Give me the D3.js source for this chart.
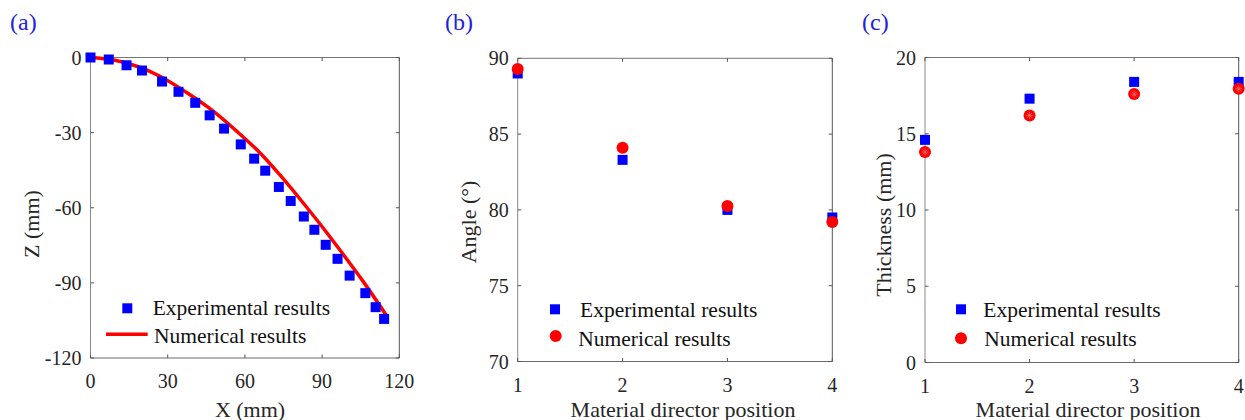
<!DOCTYPE html>
<html>
<head>
<meta charset="utf-8">
<script src="https://cdn.jsdelivr.net/npm/d3@7"></script>
<style>
  body { margin: 0; background: #fff; }
</style>
</head>
<body>
<svg id="fig" width="1245" height="420" font-family="'Liberation Serif', 'DejaVu Serif', serif"></svg>
<script>
// panel (a): deflection profile
let expX = [0, 7.1, 14.0, 20.0, 27.8, 34.2, 40.7, 46.3, 51.9, 58.4, 63.6, 67.9, 73.2, 77.8, 82.9, 87.0, 91.4, 96.0, 100.7, 106.8, 110.8, 114.1];
let expZ = [0, -0.8, -3.1, -5.2, -9.6, -13.7, -18.1, -23.1, -28.4, -34.7, -40.4, -45.2, -51.7, -57.3, -63.5, -68.8, -74.8, -80.4, -87.1, -94.1, -99.7, -104.4];
let numX = [0, 9, 18, 27, 37.5, 47.8, 56.9, 65.9, 73.7, 81.4, 89.2, 97, 106, 115];
let numZ = [0, -1, -3.5, -7.5, -14.1, -21.5, -29.5, -38.1, -47.0, -56.5, -66.5, -77, -89.5, -103];
let ticksAX = [0, 30, 60, 90, 120];
let ticksAY = [0, -30, -60, -90, -120];

// panels (b) and (c)
let positions = [1, 2, 3, 4];
let angleExp = [89.0, 83.3, 80.0, 79.5];
let angleNum = [89.3, 84.1, 80.25, 79.2];
let thickExp = [14.6, 17.3, 18.4, 18.4];
let thickNum = [13.8, 16.2, 17.6, 17.95];
let ticksB = [70, 75, 80, 85, 90];
let ticksC = [0, 5, 10, 15, 20];

let legendLabels = ['Experimental results', 'Numerical results'];

let colorExp = '#0000ff';
let colorNum = '#ff0000';
let colorLabel = '#2222dd';
let colorText = '#262626';
let serif = "'Liberation Serif', 'DejaVu Serif', serif";

let svg = d3.select('#fig');

function txt(sel) {
    return sel.attr('font-family', serif);
}

function drawAxes(g, x, y, xt, yt) {
    let [x0, x1] = x.range();
    let [y0, y1] = y.range();
    g.append('line').attr('x1', x0).attr('x2', x0).attr('y1', y0).attr('y2', y1).attr('stroke', '#8a8a8a');
    g.append('line').attr('x1', x0).attr('x2', x1).attr('y1', y0).attr('y2', y0).attr('stroke', '#6a6a6a');
    g.append('line').attr('x1', x1).attr('x2', x1).attr('y1', y0).attr('y2', y1).attr('stroke', '#555');
    g.append('line').attr('x1', x0).attr('x2', x1).attr('y1', y1).attr('y2', y1).attr('stroke', '#777');

    xt.forEach(function (t) {
        let px = x(t);
        g.append('line').attr('x1', px).attr('x2', px).attr('y1', y0).attr('y2', y0 - 3.5).attr('stroke', '#555');
        g.append('line').attr('x1', px).attr('x2', px).attr('y1', y1).attr('y2', y1 + 3.5).attr('stroke', '#555');
        txt(g.append('text')).attr('x', px).attr('y', y0 + 30).attr('text-anchor', 'middle')
            .attr('font-size', 20).attr('fill', colorText).text(t);
    });
    yt.forEach(function (t) {
        let py = y(t);
        g.append('line').attr('x1', x0).attr('x2', x0 + 3.5).attr('y1', py).attr('y2', py).attr('stroke', '#555');
        g.append('line').attr('x1', x1).attr('x2', x1 - 3.5).attr('y1', py).attr('y2', py).attr('stroke', '#555');
        txt(g.append('text')).attr('x', x0 - 9).attr('y', py + 7).attr('text-anchor', 'end')
            .attr('font-size', 20).attr('fill', colorText).text(t);
    });
}

function squares(g, xs, ys, x, y) {
    g.selectAll(null).data(xs).enter().append('rect')
        .attr('x', d => x(d) - 5).attr('y', (d, i) => y(ys[i]) - 5)
        .attr('width', 10).attr('height', 10).attr('fill', colorExp);
}

function circles(g, xs, ys, x, y, star) {
    g.selectAll(null).data(xs).enter().append('circle')
        .attr('cx', d => x(d)).attr('cy', (d, i) => y(ys[i]))
        .attr('r', 6).attr('fill', colorNum);
    if (star) {
        xs.forEach(function (d, i) {
            let cx = x(d), cy = y(ys[i]);
            [0, 45, 90, 135].forEach(function (a) {
                let r = a * Math.PI / 180;
                g.append('line')
                    .attr('x1', cx - 3.5 * Math.cos(r)).attr('y1', cy - 3.5 * Math.sin(r))
                    .attr('x2', cx + 3.5 * Math.cos(r)).attr('y2', cy + 3.5 * Math.sin(r))
                    .attr('stroke', '#ff6a6a').attr('stroke-width', 0.8);
            });
        });
    }
}

function panelLabel(x, s) {
    txt(svg.append('text')).attr('x', x).attr('y', 30).attr('font-size', 24)
        .attr('fill', colorLabel).text(s);
}

function legendText(x, y, s) {
    txt(svg.append('text')).attr('x', x).attr('y', y).attr('font-size', 21.5)
        .attr('fill', '#111').text(s);
}

function axisTitle(x, y, s, rotate) {
    txt(svg.append('text'))
        .attr('transform', 'translate(' + x + ',' + y + ')' + (rotate ? ' rotate(-90)' : ''))
        .attr('text-anchor', 'middle').attr('font-size', 22).attr('fill', colorText).text(s);
}

// ---- (a)
let xa = d3.scaleLinear().domain([0, 120]).range([90.5, 399.3]);
let ya = d3.scaleLinear().domain([-120, 0]).range([358, 57.5]);
let ga = svg.append('g');
drawAxes(ga, xa, ya, ticksAX, ticksAY);
let line = d3.line().x(d => xa(d[0])).y(d => ya(d[1])).curve(d3.curveCatmullRom);
ga.append('path').datum(numX.map((d, i) => [d, numZ[i]]))
    .attr('d', line).attr('fill', 'none').attr('stroke', colorNum).attr('stroke-width', 3.5);
squares(ga, expX, expZ, xa, ya);
panelLabel(10, '(a)');
axisTitle(39, 224, 'Z (mm)', true);
axisTitle(250, 417, 'X (mm)', false);
svg.append('rect').attr('x', 122.3).attr('y', 303.3).attr('width', 10).attr('height', 10).attr('fill', colorExp);
legendText(152.7, 315, legendLabels[0]);
svg.append('line').attr('x1', 106).attr('x2', 147.7).attr('y1', 334.3).attr('y2', 334.3)
    .attr('stroke', colorNum).attr('stroke-width', 3.5);
legendText(154, 343, legendLabels[1]);

// ---- (b)
let xb = d3.scaleLinear().domain([1, 4]).range([517.7, 832.3]);
let yb = d3.scaleLinear().domain([70, 90]).range([361.5, 58.3]);
let gb = svg.append('g');
drawAxes(gb, xb, yb, positions, ticksB);
squares(gb, positions, angleExp, xb, yb);
circles(gb, positions, angleNum, xb, yb, false);
panelLabel(445, '(b)');
axisTitle(476, 222, 'Angle (°)', true);
axisTitle(683, 417, 'Material director position', false);
svg.append('rect').attr('x', 550).attr('y', 304.3).attr('width', 10).attr('height', 10).attr('fill', colorExp);
legendText(580, 316.5, legendLabels[0]);
svg.append('circle').attr('cx', 555.7).attr('cy', 336).attr('r', 6).attr('fill', colorNum);
legendText(578.3, 345.5, legendLabels[1]);

// ---- (c)
let xc = d3.scaleLinear().domain([1, 4]).range([925, 1238.7]);
let yc = d3.scaleLinear().domain([0, 20]).range([362.5, 57.5]);
let gc = svg.append('g');
drawAxes(gc, xc, yc, positions, ticksC);
squares(gc, positions, thickExp, xc, yc);
circles(gc, positions, thickNum, xc, yc, true);
panelLabel(862, '(c)');
axisTitle(891, 225, 'Thickness (mm)', true);
axisTitle(1088, 417, 'Material director position', false);
svg.append('rect').attr('x', 956).attr('y', 304.3).attr('width', 10).attr('height', 10).attr('fill', colorExp);
legendText(983.3, 316.5, legendLabels[0]);
svg.append('circle').attr('cx', 961).attr('cy', 338.3).attr('r', 6).attr('fill', colorNum);
legendText(984.3, 346, legendLabels[1]);
</script>
</body>
</html>
